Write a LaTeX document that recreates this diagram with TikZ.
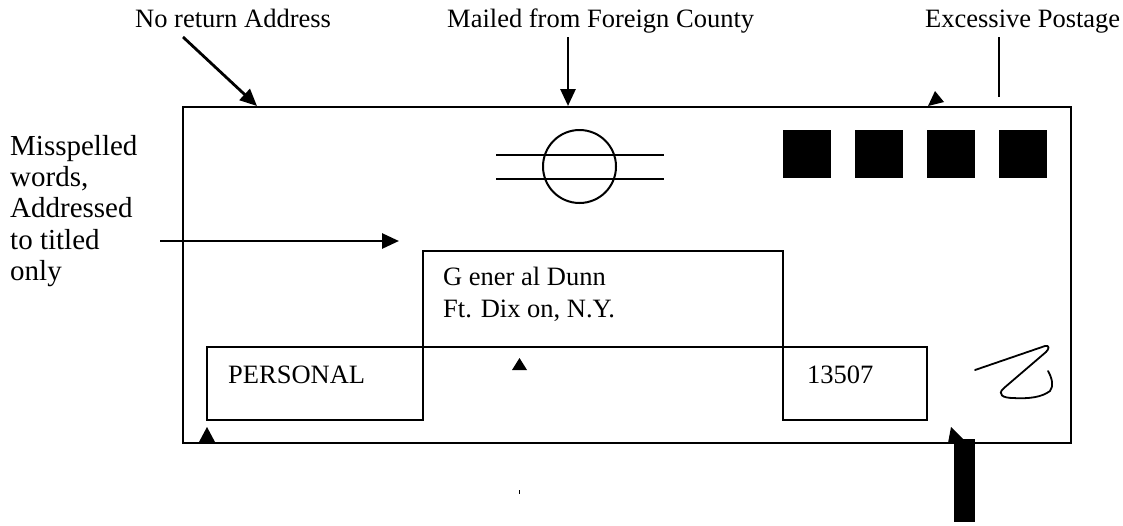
\documentclass[tikz,border=0pt]{standalone}
\usepackage{fontspec}
\setmainfont{Liberation Serif}
\usetikzlibrary{arrows.meta}
\begin{document}
\begin{tikzpicture}[x=1pt,y=-1pt,
  lbl/.style={anchor=base west,inner sep=0pt,font=\fontsize{26.5}{31}\selectfont},
  biglbl/.style={lbl,font=\fontsize{29}{31}\selectfont},
  edge/.style={line width=2pt},
  arr/.style={line width=2.8pt,-{Triangle[length=17pt,width=15pt]}},
  tri/.style={fill=black,draw=none}]
\useasboundingbox (0,0) rectangle (1123,525);
% envelope
\draw[edge] (183,107) rectangle (1071,443);
% labels at top
\node[lbl] (noret) at (135,27) {No return Address};
\node[lbl] (mailed) at (447,27) {Mailed from Foreign County};
\node[lbl] (exc) at (925,27) {Excessive Postage};
% left label
\node[biglbl] (m1) at (10,155) {Misspelled};
\node[biglbl] (m2) at (10,186) {words,};
\node[biglbl] (m3) at (10,217) {Addressed};
\node[biglbl] (m4) at (10,249) {to titled};
\node[biglbl] (m5) at (10,280) {only};
% arrows
\coordinate (a1s) at (183,37);
\coordinate (a1e) at (257,106);
\draw[arr] (a1s) -- (a1e);
\coordinate (a2s) at (568,37);
\coordinate (a2e) at (568,106);
\draw[arr] (a2s) -- (a2e);
\coordinate (a3s) at (999,37);
\coordinate (a3e) at (999,97);
\draw[line width=2.8pt] (a3s) -- (a3e);
\coordinate (a4s) at (160,241);
\coordinate (a4e) at (399,241);
\draw[arr] (a4s) -- (a4e);
% detached arrowheads
\fill[tri] (928,106) -- (944,102) -- (935,91) -- cycle;
\fill[tri] (512,370) -- (527,370) -- (519.5,358) -- cycle;
\fill[tri] (199,442) -- (215,442) -- (207,427) -- cycle;
\fill[tri] (951,427) -- (964,440) -- (948,443) -- cycle;
\fill[tri] (954,439) rectangle (975,522);
% tiny tick
\draw[line width=0.8pt] (519,490) -- (519,494);
% postmark
\draw[edge] (579.5,166.5) circle (36.5);
\draw[edge] (496,155) -- (664,155);
\draw[edge] (496,179) -- (664,179);
% stamps
\foreach \x in {783,855,927,999} \fill (\x,130) rectangle ++(48,48);
% address boxes
\draw[edge] (423,420) -- (423,251) -- (783,251) -- (783,420);
\draw[edge] (207,347) rectangle (423,420);
\draw[edge] (783,347) rectangle (927,420);
\draw[edge] (423,347) -- (783,347);
\node[lbl] (addr1) at (443,285) {G ener al Dunn};
\node[lbl] (addr2) at (443,317) {Ft. Dix on, N.Y.};
\node[lbl] (pers) at (228,383) {PERSONAL};
\node[lbl] (zip) at (807,383) {13507};
% scribble
\draw[line width=1.8pt,line cap=round,line join=round]
  (975,370) -- (1045,346) .. controls (1050,345) and (1049,349) .. (1046,352)
  -- (1004,388) .. controls (996,395) and (1004,398) .. (1013,398)
  .. controls (1030,399) and (1042,397) .. (1050,391)
  .. controls (1054,386) and (1052,378) .. (1048,371);
\end{tikzpicture}
\end{document}
